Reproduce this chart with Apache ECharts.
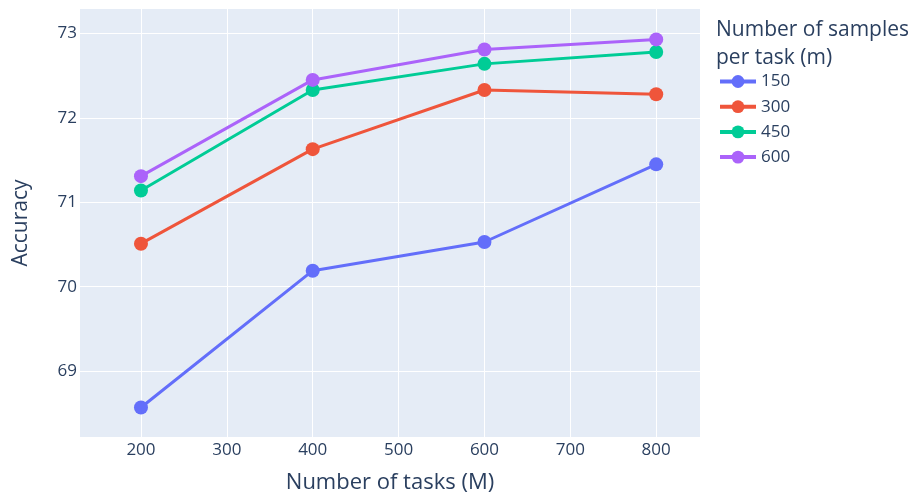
<!DOCTYPE html>
<html><head><meta charset="utf-8">
<script src="https://cdn.jsdelivr.net/npm/echarts@6/dist/echarts.min.js"></script>
<style>html,body{margin:0;padding:0;background:#fff}#c{width:916px;height:495px}</style>
</head><body><div id="c"></div>
<script>
const tasks = [200, 400, 600, 800];
const seriesNames = ['150', '300', '450', '600'];
const acc150 = [68.57, 70.19, 70.53, 71.45];
const acc300 = [70.51, 71.63, 72.33, 72.28];
const acc450 = [71.14, 72.33, 72.64, 72.78];
const acc600 = [71.31, 72.45, 72.81, 72.93];
const xTicks = [200, 300, 400, 500, 600, 700, 800];
const yTicks = [69, 70, 71, 72, 73];

const values = [acc150, acc300, acc450, acc600];
const colors = ['#636efa', '#EF553B', '#00cc96', '#ab63fa'];
const txt = '#2a3f5f';
const font = 'Open Sans, Noto Sans, sans-serif';

const chart = echarts.init(document.getElementById('c'));
chart.setOption({
  animation: false,
  backgroundColor: '#fff',
  title: {
    text: 'Number of samples\nper task (m)',
    left: 711, top: 11,
    textStyle: {color: txt, fontSize: 21, fontWeight: 'normal', fontFamily: font, lineHeight: 28}
  },
  legend: {
    orient: 'vertical', left: 713, top: 68,
    itemWidth: 36, itemHeight: 16, itemGap: 8.2,
    data: seriesNames,
    lineStyle: {width: 4},
    textStyle: {color: txt, fontSize: 17, fontFamily: font}
  },
  grid: {left: 80, right: 216, top: 9, bottom: 58, show: true, backgroundColor: '#E5ECF6', borderWidth: 0, outerBoundsMode: 'none', containLabel: false},
  xAxis: {
    type: 'value', min: 129, max: 851,
    name: 'Number of tasks (M)', nameLocation: 'middle', nameGap: 35,
    nameTextStyle: {color: txt, fontSize: 22, fontFamily: font},
    axisLine: {show: false}, axisTick: {show: false, customValues: xTicks},
    axisLabel: {customValues: xTicks, color: txt, fontSize: 17, fontFamily: font, margin: 5},
    splitLine: {show: true, lineStyle: {color: '#fff', width: 1}}
  },
  yAxis: {
    type: 'value', min: 68.22, max: 73.29,
    name: 'Accuracy', nameLocation: 'middle', nameGap: 48, nameRotate: 90,
    nameTextStyle: {color: txt, fontSize: 21, fontFamily: font},
    axisLine: {show: false}, axisTick: {show: false, customValues: yTicks},
    axisLabel: {customValues: yTicks, color: txt, fontSize: 17, fontFamily: font, margin: 3},
    splitLine: {show: true, lineStyle: {color: '#fff', width: 1}}
  },
  series: seriesNames.map((n, i) => ({
    name: n, type: 'line',
    data: tasks.map((t, j) => [t, values[i][j]]),
    symbol: 'circle', symbolSize: 14,
    itemStyle: {color: colors[i]},
    lineStyle: {color: colors[i], width: 3}
  }))
});
</script></body></html>
